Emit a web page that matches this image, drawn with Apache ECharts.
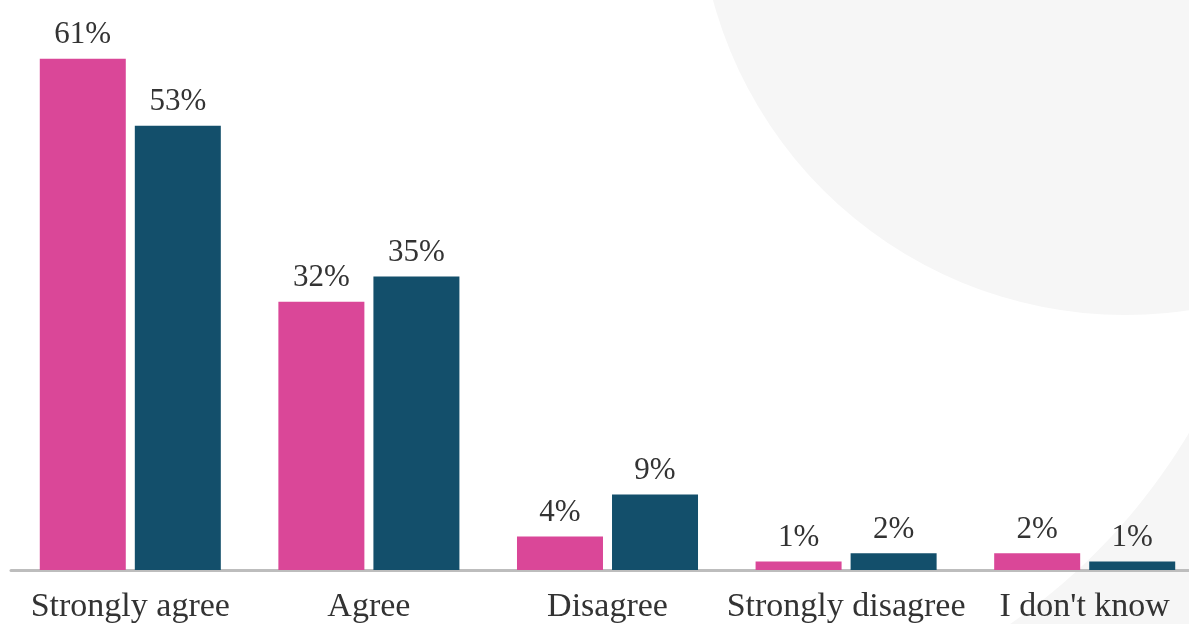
<!DOCTYPE html>
<html>
<head>
<meta charset="utf-8">
<style>
  html, body { margin: 0; padding: 0; background: #ffffff; }
  #chart { width: 1189px; height: 624px; }
</style>
<script src="https://cdn.jsdelivr.net/npm/echarts@6/dist/echarts.min.js"></script>
</head>
<body>
<div id="chart"></div>
<script>
// Survey responses, percent of respondents per answer
const categories = ['Strongly agree', 'Agree', 'Disagree', 'Strongly disagree', "I don't know"];
const groupA = [61, 32, 4, 1, 2];
const groupB = [53, 35, 9, 2, 1];

const PINK = '#DA4798';
const NAVY = '#134F6B';
const TEXT = '#333333';
const SHADE = '#f6f6f6';
const FONT = '"Liberation Serif", "DejaVu Serif", serif';

// Decorative region in the lower right corner: outside of a large circle
function arcRegion(cx, cy, r, fromDeg, toDeg, steps) {
  const pts = [];
  for (let i = 0; i <= steps; i++) {
    const a = (fromDeg + (toDeg - fromDeg) * i / steps) * Math.PI / 180;
    pts.push([cx + r * Math.cos(a), cy + r * Math.sin(a)]);
  }
  pts.push([1300, 800], [1300, 300]);
  return pts;
}
const blobBottom = arcRegion(663, 120, 612, 20, 75, 60);

const chart = echarts.init(document.getElementById('chart'), null, { renderer: 'canvas' });

const valueLabel = {
  show: true,
  position: 'top',
  distance: 8,
  color: TEXT,
  fontFamily: FONT,
  fontSize: 31,
  formatter: p => p.value + '%'
};

chart.setOption({
  backgroundColor: '#ffffff',
  animation: false,
  graphic: [
    {
      type: 'circle',
      silent: true,
      z: -10,
      shape: { cx: 1125, cy: -112, r: 427 },
      style: { fill: SHADE }
    },
    {
      type: 'polygon',
      silent: true,
      z: -10,
      shape: { points: blobBottom },
      style: { fill: SHADE }
    }
  ],
  // plot area runs a little past the right edge of the canvas
  grid: {
    left: 11, top: 0, width: 1193, height: 570,
    containLabel: false,
    outerBoundsMode: 'none'
  },
  xAxis: {
    type: 'category',
    data: categories,
    axisLine: { show: true, lineStyle: { color: '#bdbdbd', width: 3 } },
    axisTick: { show: false },
    axisLabel: {
      interval: 0,
      margin: 20,
      color: TEXT,
      fontFamily: FONT,
      fontSize: 34
    }
  },
  yAxis: {
    type: 'value',
    min: 0,
    max: 68,
    show: false,
    splitLine: { show: false }
  },
  series: [
    {
      type: 'bar',
      data: groupA,
      barWidth: 86,
      barGap: '10.5%',
      itemStyle: { color: PINK },
      label: valueLabel
    },
    {
      type: 'bar',
      data: groupB,
      barWidth: 86,
      barGap: '10.5%',
      itemStyle: { color: NAVY },
      label: valueLabel
    }
  ]
});
</script>
</body>
</html>
